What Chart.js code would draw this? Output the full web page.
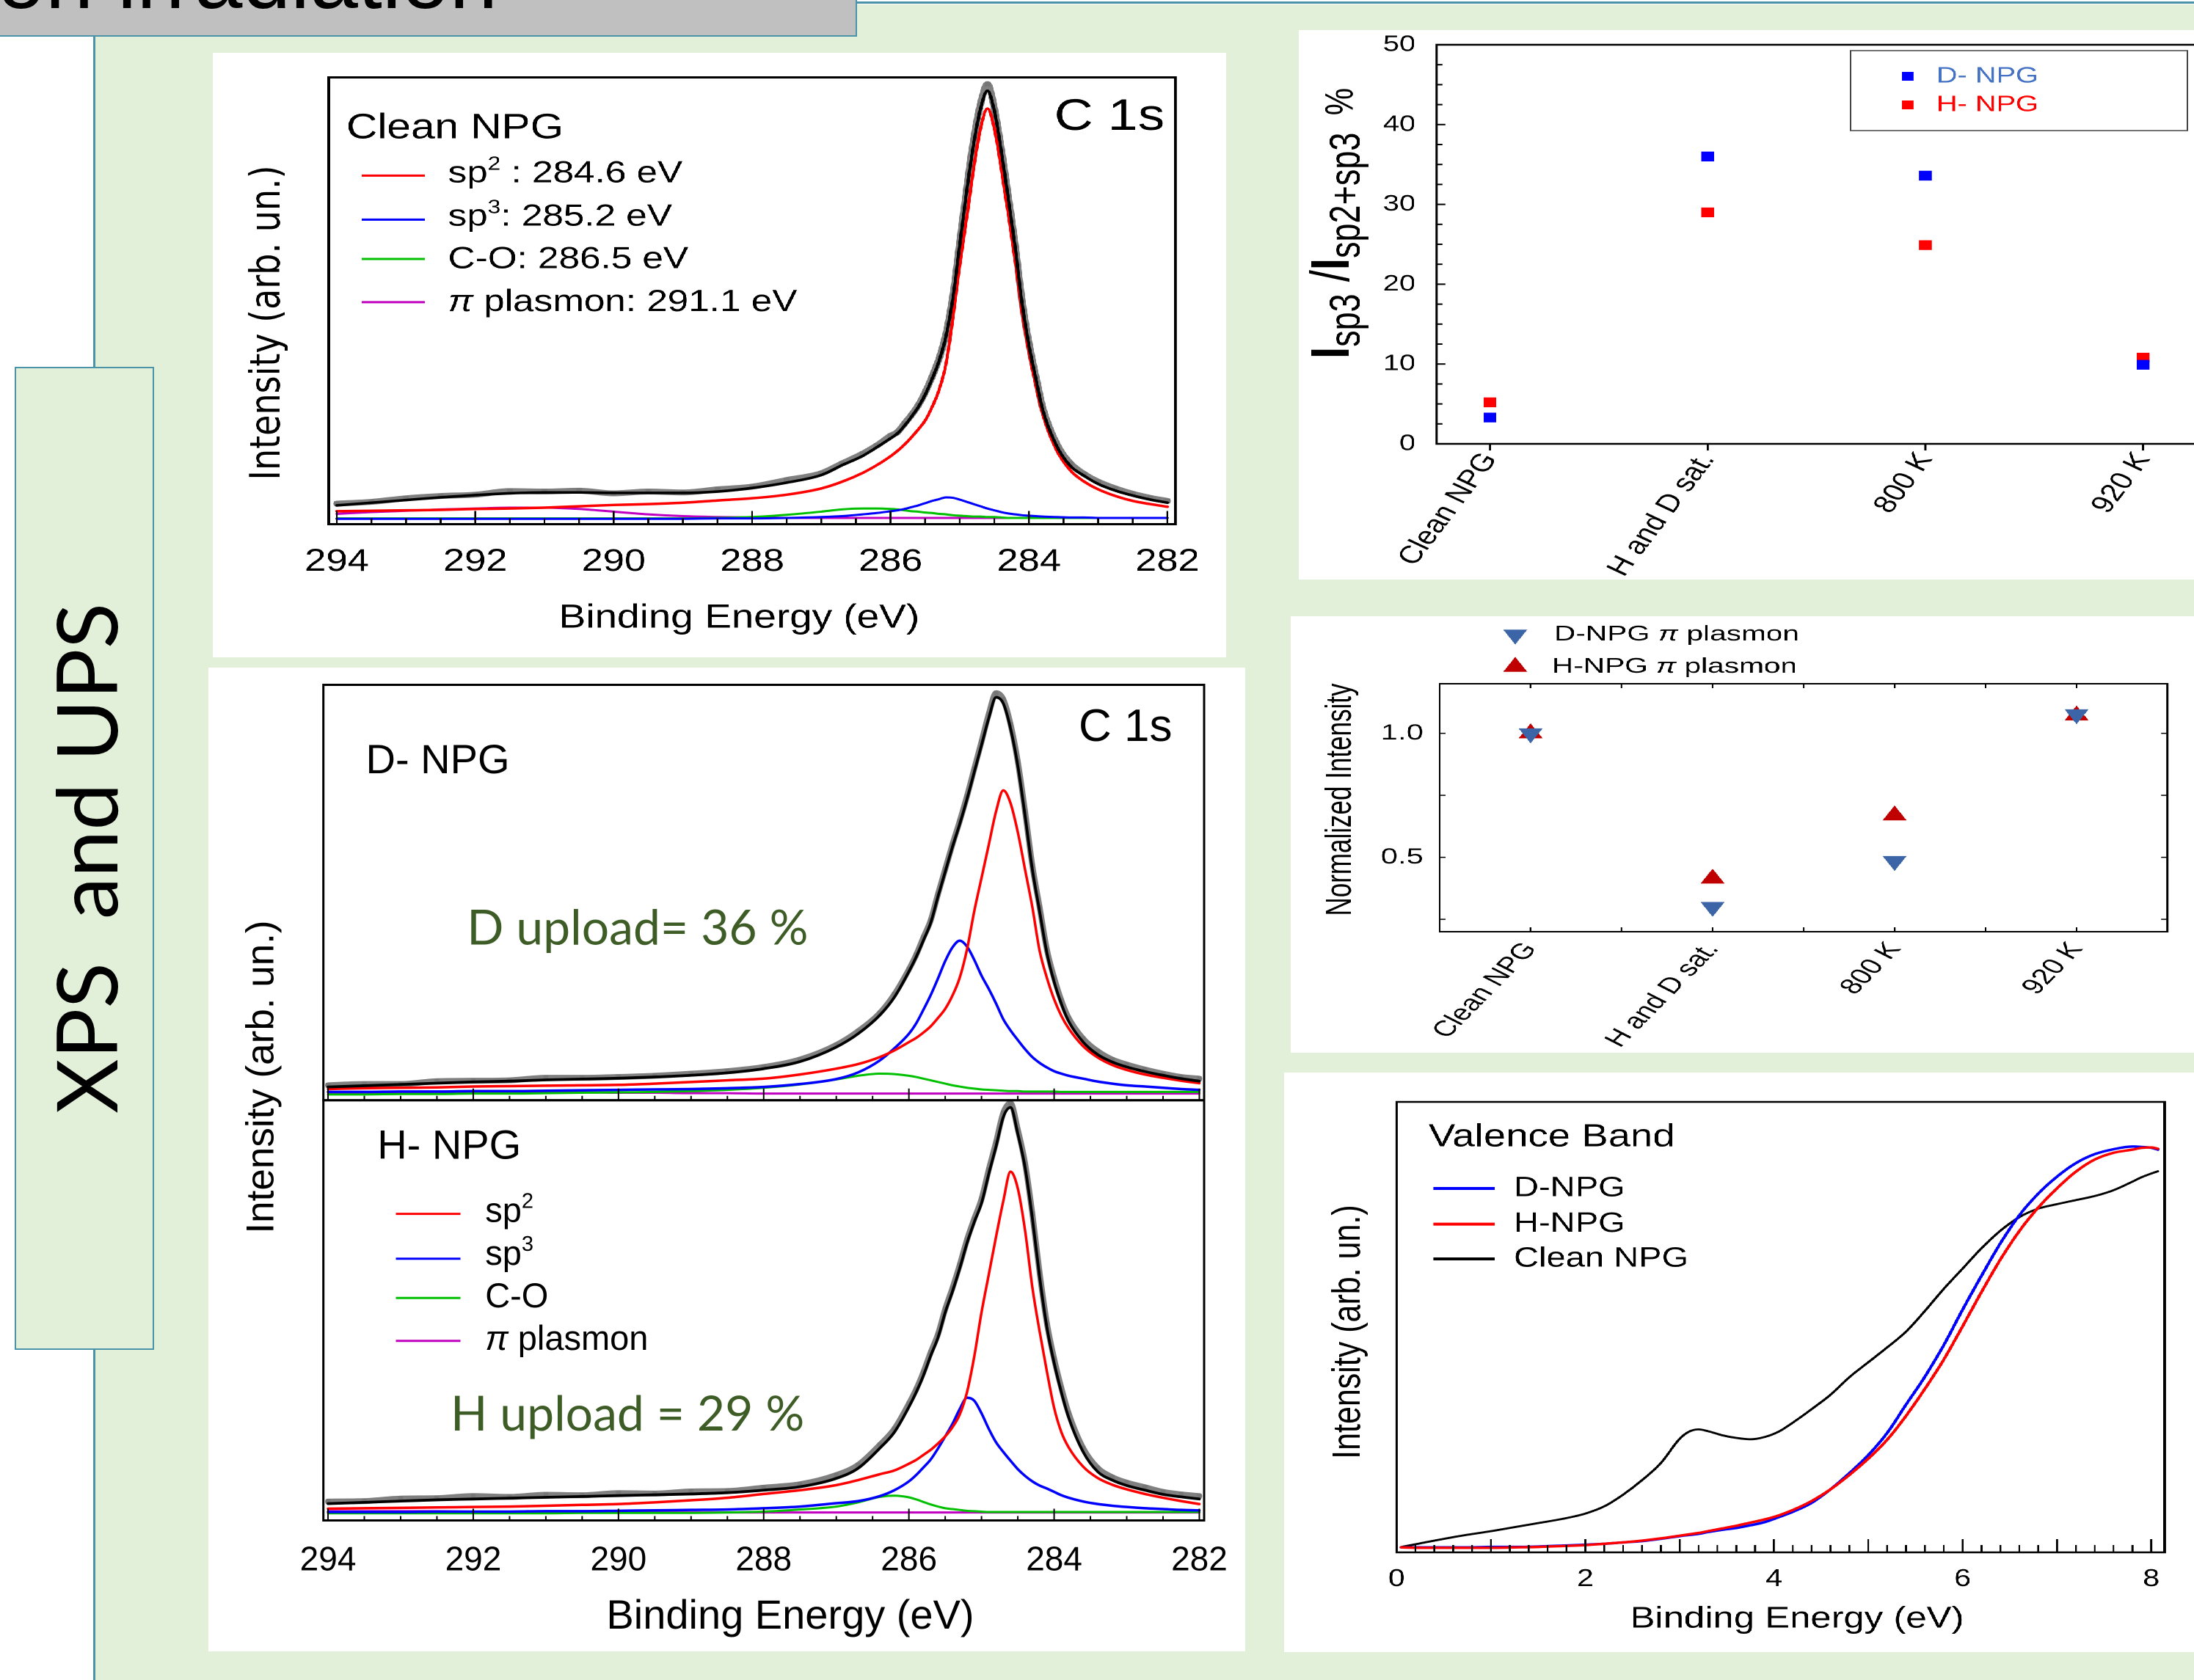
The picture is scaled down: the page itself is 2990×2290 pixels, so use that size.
<!DOCTYPE html>
<html>
<head>
<meta charset="utf-8">
<script src="https://cdn.jsdelivr.net/npm/chart.js@4.4.0/dist/chart.umd.min.js"></script>
<style>
  html, body { margin: 0; padding: 0; }
  body { width: 2990px; height: 2290px; position: relative; overflow: hidden; background: #ffffff; }
  .green { position: absolute; left: 129px; top: 6px; right: 0; bottom: 0; background: #e2efd9; }
  .vline { position: absolute; left: 127px; top: 48px; width: 3px; bottom: 0; background: #4a93a8; }
  .hline { position: absolute; left: 1166px; top: 2px; width: 1824px; height: 3px; background: #4a93a8; }
  .titlebox { position: absolute; left: 0; top: 0; width: 1166px; height: 48px; background: #c0c0c0;
              border-right: 2px solid #4a93a8; border-bottom: 2px solid #4a93a8; overflow: hidden; }
  .titlebox span { position: absolute; left: -4px; top: -89px; font: 118px/1 "Liberation Sans", Arial, sans-serif;
                   color: #000; white-space: nowrap; }
  .sidebox { position: absolute; left: 20px; top: 500px; width: 186px; height: 1336px; background: #e2efd9;
             border: 2px solid #4a93a8; }
  .sidebox span { position: absolute; left: 50%; top: 50%; transform: translate(-50%, -50%) rotate(-90deg);
                  font: 115px/1 Lato, "Open Sans", sans-serif; white-space: pre; color: #000; }
  .panel { position: absolute; background: #ffffff; transform-origin: 0 0; }
  .panel canvas { display: block; }
</style>
</head>
<body>
<div class="green"></div>
<div class="vline"></div>
<div class="hline"></div>
<div class="titlebox"><span>on irradiation</span></div>
<div class="sidebox"><span>XPS  and UPS</span></div>

<div class="panel" style="left:290px; top:72px; width:1132px; height:824px; transform:scaleX(1.22);"><canvas id="cClean"></canvas></div>
<div class="panel" style="left:284px; top:910px; width:1413px; height:1341px;"><canvas id="cDH"></canvas></div>
<div class="panel" style="left:1770px; top:41px; width:1039px; height:749px; transform:scaleX(1.28);"><canvas id="cRatio"></canvas></div>
<div class="panel" style="left:1759px; top:840px; width:879px; height:595px; transform:scaleX(1.4);"><canvas id="cPlasmon"></canvas></div>
<div class="panel" style="left:1750px; top:1462px; width:1000px; height:790px; transform:scaleX(1.24);"><canvas id="cValence"></canvas></div>

<script>
// ---- C 1s spectra (binding energy in eV, intensity in % of frame height) ----
const xpsEnergy = [294, 293.5, 293, 292.5, 292, 291.5, 291, 290.5, 290, 289.5, 289, 288.5, 288, 287.5, 287,
  286.7, 286.4, 286.2, 286.0, 285.9, 285.8, 285.7, 285.6, 285.5, 285.4, 285.3, 285.2, 285.1, 285.0, 284.9,
  284.8, 284.7, 284.6, 284.5, 284.4, 284.3, 284.2, 284.1, 284.0, 283.9, 283.8, 283.6, 283.4, 283.2, 283.0,
  282.75, 282.5, 282.25, 282];
const xpsTicks = [294, 292, 290, 288, 286, 284, 282];

const cleanData = [4.6, 5.0, 5.8, 6.3, 6.6, 7.4, 7.3, 7.5, 6.9, 7.3, 7.1, 7.8, 8.4, 9.9, 11.4, 13.6, 15.8, 17.6,
  19.8, 20.6, 22.5, 24.4, 26.6, 29.5, 33.0, 37.0, 42.5, 51.0, 63.0, 75.0, 86.0, 94.0, 98.5, 93.0, 84.0, 73.5,
  62.5, 50.0, 40.5, 33.0, 26.0, 18.0, 13.6, 11.2, 9.5, 8.0, 6.8, 5.9, 5.2];
const cleanFit = [4.2, 4.8, 5.4, 6.0, 6.5, 6.9, 7.1, 7.1, 7.0, 7.0, 7.0, 7.3, 8.1, 9.3, 11.0, 13.2, 15.3, 17.2,
  19.2, 20.3, 22.0, 24.0, 26.2, 29.0, 32.5, 36.5, 42.0, 50.5, 62.5, 74.5, 85.0, 93.0, 97.0, 92.5, 83.5, 73.0,
  62.0, 49.5, 40.0, 32.5, 25.5, 17.5, 13.0, 10.8, 9.0, 7.5, 6.4, 5.5, 4.8];
const cleanSp2 = [2.9, 3.0, 3.1, 3.2, 3.4, 3.5, 3.7, 4.0, 4.3, 4.5, 4.8, 5.3, 5.8, 6.6, 8.0, 9.5, 11.5, 13.2,
  15.2, 16.4, 17.8, 19.4, 21.2, 23.2, 26.2, 30.0, 35.8, 46.0, 58.0, 68.5, 79.5, 88.5, 93.0, 88.5, 79.5, 69.5,
  59.0, 47.5, 38.5, 31.0, 24.5, 16.5, 12.0, 9.5, 7.8, 6.3, 5.2, 4.5, 3.9];
const cleanSp3 = [1.2, 1.2, 1.2, 1.2, 1.2, 1.2, 1.2, 1.2, 1.2, 1.2, 1.2, 1.3, 1.3, 1.4, 1.6, 1.8, 2.2, 2.5,
  2.9, 3.1, 3.4, 3.8, 4.2, 4.7, 5.2, 5.6, 6.0, 5.9, 5.5, 5.0, 4.5, 4.0, 3.5, 3.1, 2.7, 2.4, 2.2, 2.0, 1.9,
  1.8, 1.7, 1.6, 1.5, 1.5, 1.4, 1.4, 1.4, 1.4, 1.4];
const cleanCO = [1.3, 1.3, 1.3, 1.3, 1.3, 1.3, 1.3, 1.3, 1.3, 1.3, 1.3, 1.4, 1.6, 2.1, 2.8, 3.3, 3.5, 3.5,
  3.4, 3.3, 3.1, 2.9, 2.8, 2.6, 2.5, 2.3, 2.2, 2.0, 1.9, 1.8, 1.7, 1.7, 1.6, 1.6, 1.5, 1.4, 1.4, 1.4, 1.4,
  1.4, 1.4, 1.4, 1.4, 1.4, 1.4, 1.4, 1.4, 1.4, 1.4];
const cleanPlasmon = [2.3, 2.7, 3.0, 3.3, 3.5, 3.7, 3.7, 3.4, 2.8, 2.2, 1.8, 1.6, 1.5, 1.4, 1.4, 1.4, 1.4, 1.4,
  1.4, 1.4, 1.4, 1.4, 1.4, 1.4, 1.4, 1.4, 1.4, 1.4, 1.4, 1.4, 1.4, 1.4, 1.4, 1.4, 1.4, 1.4, 1.4, 1.4, 1.4,
  1.4, 1.4, 1.4, 1.4, 1.4, 1.4, 1.4, 1.4, 1.4, 1.4];

const dData = [3.6, 3.9, 3.9, 4.6, 4.7, 4.8, 5.4, 5.4, 5.6, 5.9, 6.4, 7.0, 8.0, 9.8, 13.3, 16.6, 21.0, 25.5,
  31.5, 35.0, 39.2, 43.3, 49.6, 55.6, 61.6, 67.2, 73.2, 79.8, 86.3, 93.0, 98.0, 96.5, 90.5, 81.5, 69.5, 56.5,
  46.5, 36.3, 29.5, 24.0, 19.8, 14.8, 11.8, 9.8, 8.6, 7.4, 6.4, 5.6, 5.2];
const dFit = [3.2, 3.5, 3.8, 4.1, 4.4, 4.6, 4.9, 5.1, 5.3, 5.6, 6.0, 6.6, 7.6, 9.3, 12.8, 16.0, 20.5, 24.8,
  31.0, 34.5, 38.5, 42.7, 49.0, 55.0, 61.0, 66.5, 72.5, 79.0, 85.5, 92.0, 97.0, 95.5, 89.5, 80.5, 68.5, 55.6,
  45.5, 35.5, 28.5, 23.2, 19.0, 14.0, 11.0, 9.2, 8.0, 6.9, 6.0, 5.2, 4.6];
const dSp2 = [2.7, 2.9, 3.0, 3.1, 3.3, 3.4, 3.5, 3.6, 3.7, 4.0, 4.4, 4.8, 5.2, 6.2, 7.6, 8.7, 10.4, 12.0,
  14.0, 15.0, 16.3, 17.8, 19.8, 22.0, 25.2, 29.5, 36.3, 45.5, 53.5, 61.5, 69.5, 74.6, 71.5, 64.5, 55.5, 46.5,
  36.0, 29.5, 24.3, 20.3, 17.3, 13.0, 10.3, 8.5, 7.3, 6.2, 5.4, 4.7, 4.1];
const dSp3 = [2.0, 2.0, 2.1, 2.1, 2.2, 2.2, 2.3, 2.4, 2.5, 2.6, 2.7, 2.9, 3.2, 3.9, 5.1, 6.7, 9.6, 12.5,
  16.0, 18.5, 21.8, 25.3, 29.3, 33.5, 36.8, 38.4, 37.0, 33.8, 30.0, 26.8, 23.3, 19.5, 16.8, 14.5, 12.3, 10.4,
  9.0, 7.9, 7.0, 6.4, 5.9, 5.2, 4.5, 4.0, 3.6, 3.3, 3.0, 2.7, 2.5];
const dCO = [1.4, 1.4, 1.5, 1.5, 1.6, 1.6, 1.7, 1.8, 1.9, 2.0, 2.2, 2.5, 3.0, 3.8, 5.0, 5.9, 6.4, 6.3,
  5.9, 5.6, 5.2, 4.8, 4.4, 4.0, 3.6, 3.3, 3.0, 2.8, 2.6, 2.5, 2.4, 2.3, 2.2, 2.2, 2.1, 2.1, 2.1, 2.1, 2.1,
  2.0, 2.0, 2.0, 2.0, 2.0, 2.0, 2.0, 2.0, 2.0, 2.0];
const dPlasmon = [1.9, 1.9, 1.9, 1.9, 1.9, 1.9, 1.9, 1.9, 1.8, 1.8, 1.7, 1.7, 1.6, 1.6, 1.6, 1.6, 1.6, 1.6,
  1.6, 1.6, 1.6, 1.6, 1.6, 1.6, 1.6, 1.6, 1.6, 1.6, 1.6, 1.6, 1.6, 1.6, 1.6, 1.6, 1.6, 1.6, 1.6, 1.6, 1.6,
  1.6, 1.6, 1.6, 1.6, 1.6, 1.6, 1.6, 1.6, 1.6, 1.6];

const hData = [4.5, 4.6, 5.2, 5.3, 5.8, 5.6, 6.1, 6.0, 6.5, 6.4, 6.9, 7.0, 7.8, 8.6, 10.8, 13.2, 18.0, 21.8,
  27.8, 31.2, 35.3, 40.0, 44.3, 50.3, 55.3, 60.8, 66.8, 71.8, 76.5, 83.5, 90.0, 97.0, 99.3, 93.0, 85.0, 73.0,
  59.0, 47.0, 38.5, 31.5, 25.5, 17.2, 12.5, 10.3, 9.0, 7.9, 6.8, 6.2, 5.8];
const hFit = [4.0, 4.3, 4.6, 4.9, 5.1, 5.3, 5.5, 5.7, 5.9, 6.1, 6.3, 6.6, 7.2, 8.0, 10.0, 12.4, 17.2, 21.0,
  27.0, 30.5, 34.5, 39.2, 43.5, 49.5, 54.5, 60.0, 66.0, 71.0, 75.5, 82.5, 89.0, 96.0, 98.3, 92.0, 84.0, 72.0,
  58.0, 46.0, 37.5, 30.5, 24.5, 16.3, 11.6, 9.6, 8.3, 7.2, 6.2, 5.6, 5.1];
const hSp2 = [2.8, 2.9, 3.0, 3.1, 3.2, 3.3, 3.5, 3.7, 3.9, 4.3, 4.8, 5.4, 6.3, 7.2, 8.4, 9.6, 11.0, 11.9,
  13.5, 14.4, 15.6, 16.8, 18.3, 20.0, 22.2, 25.2, 30.5, 39.0, 49.5, 58.5, 67.5, 76.0, 83.0, 79.0, 69.0, 55.5,
  45.0, 35.5, 26.8, 21.0, 17.4, 12.8, 10.1, 8.5, 7.4, 6.3, 5.4, 4.6, 3.9];
const hSp3 = [2.0, 2.0, 2.0, 2.1, 2.1, 2.1, 2.2, 2.2, 2.3, 2.4, 2.5, 2.6, 2.9, 3.3, 4.1, 4.6, 5.8, 7.2,
  9.3, 10.8, 12.6, 14.5, 17.1, 20.0, 23.0, 26.5, 29.2, 28.5, 25.5, 21.8, 18.6, 16.3, 14.2, 12.2, 10.6, 9.3,
  8.3, 7.6, 6.8, 6.0, 5.4, 4.5, 3.9, 3.5, 3.2, 2.9, 2.7, 2.5, 2.4];
const hCO = [1.7, 1.7, 1.7, 1.7, 1.7, 1.7, 1.7, 1.8, 1.8, 1.8, 1.8, 1.9, 2.1, 2.6, 3.3, 4.3, 5.6, 5.9,
  5.5, 5.0, 4.4, 3.8, 3.3, 2.9, 2.7, 2.5, 2.3, 2.2, 2.1, 2.0, 2.0, 2.0, 2.0, 2.0, 2.0, 2.0, 2.0, 2.0, 2.0,
  2.0, 2.0, 2.0, 2.0, 2.0, 2.0, 2.0, 2.0, 2.0, 2.0];
const hPlasmon = [2.2, 2.2, 2.2, 2.2, 2.1, 2.1, 2.1, 2.1, 2.0, 1.9, 1.9, 1.9, 1.9, 1.9, 1.9, 1.9, 1.9, 1.9,
  1.9, 1.9, 1.9, 1.9, 1.9, 1.9, 1.9, 1.9, 1.9, 1.9, 1.9, 1.9, 1.9, 1.9, 1.9, 1.9, 1.9, 1.9, 1.9, 1.9, 1.9,
  1.9, 1.9, 1.9, 1.9, 1.9, 1.9, 1.9, 1.9, 1.9, 1.9];

// ---- sp3 fraction and plasmon intensity per sample state ----
const conditions = ['Clean NPG', 'H and D sat.', '800 K', '920 K'];
const sp3FractionD = [3.3, 36.0, 33.6, 9.9];
const sp3FractionH = [5.2, 29.0, 24.9, 10.8];
const sp3Ticks = [0, 10, 20, 30, 40, 50];
const plasmonD = [1.0, 0.30, 0.485, 1.077];
const plasmonH = [1.0, 0.414, 0.669, 1.072];
const plasmonTicks = [0.5, 1.0];

// ---- valence band (UPS) ----
const vbEnergy = [0.05, 0.25, 0.5, 0.75, 1.0, 1.25, 1.5, 1.75, 2.0, 2.2, 2.4, 2.6, 2.8, 3.0, 3.1, 3.2, 3.3,
  3.45, 3.6, 3.75, 3.9, 4.05, 4.2, 4.4, 4.6, 4.8, 5.0, 5.2, 5.4, 5.6, 5.8, 6.0, 6.2, 6.4, 6.6, 6.8, 7.0, 7.2,
  7.4, 7.6, 7.8, 7.9, 8.0, 8.07];
const vbD = [1.1, 1.1, 1.1, 1.1, 1.2, 1.2, 1.3, 1.5, 1.7, 1.9, 2.2, 2.5, 3.0, 3.6, 3.85, 4.1, 4.5, 5.0, 5.4,
  6.0, 6.7, 7.8, 9.0, 11.0, 14.0, 17.6, 21.6, 26.5, 32.8, 39.0, 46.0, 53.9, 61.4, 68.6, 74.8, 79.6, 83.4,
  86.4, 88.4, 89.5, 90.1, 90.0, 89.8, 89.4];
const vbH = [1.1, 1.0, 1.0, 1.0, 1.0, 1.1, 1.2, 1.4, 1.6, 1.9, 2.2, 2.6, 3.1, 3.7, 4.0, 4.3, 4.7, 5.3, 5.9,
  6.6, 7.3, 8.2, 9.4, 11.4, 14.0, 17.2, 20.8, 25.0, 30.3, 36.3, 42.8, 50.2, 57.8, 65.0, 71.3, 76.5, 80.8,
  84.5, 87.2, 88.7, 89.4, 89.8, 89.9, 89.6];
const vbClean = [1.2, 2.0, 3.0, 3.9, 4.7, 5.6, 6.5, 7.4, 8.6, 10.2, 12.8, 16.0, 19.8, 25.2, 26.8, 27.3, 26.9,
  26.0, 25.4, 25.1, 25.6, 26.8, 28.8, 31.8, 35.0, 38.9, 42.2, 45.5, 49.0, 53.6, 58.5, 63.0, 67.5, 71.4, 74.4,
  76.3, 77.3, 78.2, 79.1, 80.4, 82.3, 83.3, 84.1, 84.6];
const vbTicks = [0, 2, 4, 6, 8];

// ---------------------------------------------------------------------
const FONT = '"Liberation Sans", Arial, Helvetica, sans-serif';
const font = (size, style) => (style ? style + ' ' : '') + size + 'px ' + FONT;
const DEJAVU = size => size + 'px "DejaVu Sans", sans-serif';
const LATO = size => size + 'px Lato, "Open Sans", sans-serif';
const RED = '#ff0000', BLUE = '#0000ff', GREEN = '#00c000', MAGENTA = '#c000c0', GRAY = '#808080';
const UPLOAD_GREEN = '#3d5c26';

Chart.defaults.font.family = FONT;
Chart.defaults.color = '#000';

const xy = (xs, ys) => xs.map((x, i) => ({x: x, y: ys[i]}));
const steps = (a, b, s) => { const out = []; for (let v = a; v <= b + 1e-9; v += s) out.push(+v.toFixed(3)); return out; };

function curve(xs, ys, color, width, extra) {
  return Object.assign({
    data: xy(xs, ys), showLine: true, borderColor: color, borderWidth: width, pointRadius: 0,
    cubicInterpolationMode: 'monotone', borderJoinStyle: 'round', borderCapStyle: 'round', fill: false
  }, extra || {});
}
function band(ys) {
  return curve(xpsEnergy, ys, GRAY, 8, {pointStyle: 'rect', pointRadius: 4.5, pointBackgroundColor: '#767676',
    pointBorderWidth: 0});
}

// the axis boxes are forced to fixed sizes so the frames land where the reference has them
function noPadding(s) { s.paddingTop = 0; s.paddingBottom = 0; s.paddingLeft = 0; s.paddingRight = 0; }

function xAxis(o) {
  return {
    type: 'linear', position: 'bottom', reverse: !!o.reverse, min: o.min, max: o.max,
    afterBuildTicks: s => { s.ticks = o.ticks.map(v => ({value: v})); },
    afterFit: s => { s.height = o.height; noPadding(s); },
    ticks: {autoSkip: false, minRotation: o.rot || 0, maxRotation: o.rot || 0, padding: o.pad,
            font: {size: o.size}, color: '#000', callback: o.fmt || (v => String(v))},
    grid: {display: false, drawTicks: false}, border: {display: false}
  };
}
function yAxis(o) {
  const ax = {
    type: 'linear', position: 'left', min: o.min, max: o.max,
    afterFit: s => { s.width = o.width; noPadding(s); },
    ticks: o.ticks ? {autoSkip: false, padding: o.pad, font: {size: o.size}, color: '#000',
                      callback: o.fmt || (v => String(v))} : {display: false},
    grid: {display: false, drawTicks: false}, border: {display: false}
  };
  if (o.ticks) ax.afterBuildTicks = s => { s.ticks = o.ticks.map(v => ({value: v})); };
  if (o.stack) { ax.stack = o.stack; ax.stackWeight = o.weight; }
  return ax;
}
function baseOptions(top, right, scales) {
  return {
    animation: false, responsive: true, maintainAspectRatio: false, events: [], devicePixelRatio: 2,
    layout: {padding: {top: top, right: right, left: 0, bottom: 0}},
    plugins: {legend: {display: false}, tooltip: {enabled: false}},
    scales: scales
  };
}

function drawRuns(ctx, item) {
  ctx.save();
  ctx.translate(item.x, item.y);
  if (item.rot) ctx.rotate(item.rot * Math.PI / 180);
  ctx.fillStyle = item.color || '#000';
  ctx.textAlign = 'left';
  ctx.textBaseline = item.baseline || 'alphabetic';
  let total = 0;
  const widths = item.runs.map(r => { ctx.font = r.f; const w = ctx.measureText(r.t).width; total += w; return w; });
  let cx = item.align === 'center' ? -total / 2 : 0;
  item.runs.forEach((r, i) => { ctx.font = r.f; ctx.fillText(r.t, cx, r.dy || 0); cx += widths[i]; });
  ctx.restore();
}
function drawMarker(ctx, m) {
  ctx.save();
  ctx.fillStyle = m.color;
  ctx.translate(m.x, m.y);
  ctx.rotate((m.rot || 0) * Math.PI / 180);
  ctx.beginPath();
  if (m.style === 'rect') {
    const s = m.r * Math.SQRT1_2;
    ctx.rect(-s, -s, 2 * s, 2 * s);
  } else {
    for (let i = 0; i < 3; i++) {
      const a = i * 2 * Math.PI / 3;
      const px = Math.sin(a) * m.r, py = -Math.cos(a) * m.r;
      if (i) ctx.lineTo(px, py); else ctx.moveTo(px, py);
    }
    ctx.closePath();
  }
  ctx.fill();
  ctx.restore();
}

// frames, inward tick marks, legends and labels drawn on top of each panel
function decor(id, cfg) {
  return {
    id: id,
    afterDraw(chart) {
      const ctx = chart.ctx, area = chart.chartArea;
      ctx.save();
      (cfg.frames || []).forEach(f => {
        const ys = chart.scales[f.y];
        ctx.lineWidth = f.width;
        ctx.strokeStyle = '#000';
        ctx.strokeRect(area.left, ys.top, area.right - area.left, ys.bottom - ys.top);
      });
      (cfg.ticks || []).forEach(t => {
        const sc = chart.scales[t.scale];
        ctx.lineWidth = t.width || 2;
        ctx.strokeStyle = '#000';
        t.values.forEach(v => {
          const len = t.isMajor && t.isMajor(v) ? t.majorLen : t.len;
          const p = sc.getPixelForValue(v);
          ctx.beginPath();
          if (t.side === 'bottom' || t.side === 'top') {
            const ys = chart.scales[t.y];
            const y0 = t.side === 'bottom' ? ys.bottom : ys.top;
            const dir = t.side === 'bottom' ? -1 : 1;
            ctx.moveTo(p, y0); ctx.lineTo(p, y0 + dir * len);
          } else {
            const x0 = t.side === 'left' ? area.left : area.right;
            const dir = t.side === 'left' ? 1 : -1;
            ctx.moveTo(x0, p); ctx.lineTo(x0 + dir * len, p);
          }
          ctx.stroke();
        });
      });
      (cfg.boxes || []).forEach(b => {
        ctx.lineWidth = b.width; ctx.strokeStyle = b.color;
        ctx.strokeRect(b.x, b.y, b.w, b.h);
      });
      (cfg.lines || []).forEach(l => {
        ctx.lineWidth = l.width; ctx.strokeStyle = l.color;
        ctx.beginPath(); ctx.moveTo(l.x1, l.y); ctx.lineTo(l.x2, l.y); ctx.stroke();
      });
      (cfg.markers || []).forEach(m => drawMarker(ctx, m));
      (cfg.texts || []).forEach(t => drawRuns(ctx, t));
      ctx.restore();
    }
  };
}

const xpsMinor = steps(282, 294, 0.5);
const isEven = v => Math.abs(v / 2 - Math.round(v / 2)) < 1e-6;

// ---------------- Clean NPG C 1s ----------------
new Chart(document.getElementById('cClean'), {
  type: 'scatter',
  data: {datasets: [
    curve(xpsEnergy, cleanFit, '#000', 3.6),
    curve(xpsEnergy, cleanSp2, RED, 3.5),
    curve(xpsEnergy, cleanSp3, BLUE, 3),
    curve(xpsEnergy, cleanCO, GREEN, 3),
    curve(xpsEnergy, cleanPlasmon, MAGENTA, 3),
    band(cleanData)
  ]},
  options: baseOptions(33.5, 56.6, {
    x: xAxis({reverse: true, min: 281.883, max: 294.117, ticks: xpsTicks, height: 181.5, pad: 25.7, size: 43}),
    y: yAxis({min: 0, max: 100, width: 129.5})
  }),
  plugins: [decor('decorClean', {
    frames: [{y: 'y', width: 3}],
    ticks: [{scale: 'x', y: 'y', side: 'bottom', values: xpsMinor, len: 8, majorLen: 18, isMajor: isEven, width: 2}],
    lines: [
      {x1: 166.4, x2: 237, y: 167.4, color: RED, width: 3},
      {x1: 166.4, x2: 237, y: 227.4, color: BLUE, width: 3},
      {x1: 166.4, x2: 237, y: 281, color: GREEN, width: 3},
      {x1: 166.4, x2: 237, y: 339.9, color: MAGENTA, width: 3}
    ],
    texts: [
      {x: 149.2, y: 116.5, runs: [{t: 'Clean NPG', f: font(48)}]},
      {x: 940, y: 105, runs: [{t: 'C 1s', f: font(60)}]},
      {x: 262.8, y: 176.5, runs: [{t: 'sp', f: font(42)}, {t: '2', f: font(26), dy: -17}, {t: ' : 284.6 eV', f: font(42)}]},
      {x: 262.8, y: 235.5, runs: [{t: 'sp', f: font(42)}, {t: '3', f: font(26), dy: -17}, {t: ': 285.2 eV', f: font(42)}]},
      {x: 262.8, y: 293.3, runs: [{t: 'C-O: 286.5 eV', f: font(42)}]},
      {x: 262.8, y: 352.2, runs: [{t: 'π', f: font(42, 'italic')}, {t: ' plasmon: 291.1 eV', f: font(42)}]},
      {x: 588, y: 783.4, align: 'center', runs: [{t: 'Binding Energy (eV)', f: font(45)}]},
      {x: 62.3, y: 368, rot: -90, align: 'center', baseline: 'middle', runs: [{t: 'Intensity (arb. un.)', f: DEJAVU(46)}]}
    ]
  })]
});

// ---------------- D-NPG / H-NPG C 1s (stacked frames) ----------------
new Chart(document.getElementById('cDH'), {
  type: 'scatter',
  data: {datasets: [
    curve(xpsEnergy, dFit, '#000', 3.8, {yAxisID: 'yD'}),
    curve(xpsEnergy, dSp2, RED, 3.5, {yAxisID: 'yD'}),
    curve(xpsEnergy, dSp3, BLUE, 3.5, {yAxisID: 'yD'}),
    curve(xpsEnergy, dCO, GREEN, 3, {yAxisID: 'yD'}),
    curve(xpsEnergy, dPlasmon, MAGENTA, 3, {yAxisID: 'yD'}),
    Object.assign(band(dData), {yAxisID: 'yD'}),
    curve(xpsEnergy, hFit, '#000', 3.8, {yAxisID: 'yH'}),
    curve(xpsEnergy, hSp2, RED, 3.5, {yAxisID: 'yH'}),
    curve(xpsEnergy, hSp3, BLUE, 3.5, {yAxisID: 'yH'}),
    curve(xpsEnergy, hCO, GREEN, 3, {yAxisID: 'yH'}),
    curve(xpsEnergy, hPlasmon, MAGENTA, 3, {yAxisID: 'yH'}),
    Object.assign(band(hData), {yAxisID: 'yH'})
  ]},
  options: baseOptions(23.5, 56, {
    x: xAxis({reverse: true, min: 281.934, max: 294.064, ticks: xpsTicks, height: 178.5, pad: 27.9, size: 46}),
    yH: yAxis({min: 0, max: 100, width: 156.7, stack: 'xps', weight: 571.5}),
    yD: yAxis({min: 0, max: 100, width: 156.7, stack: 'xps', weight: 565})
  }),
  plugins: [decor('decorDH', {
    frames: [{y: 'yD', width: 3}, {y: 'yH', width: 3}],
    ticks: [
      {scale: 'x', y: 'yD', side: 'bottom', values: xpsMinor, len: 6, majorLen: 16, isMajor: isEven, width: 2},
      {scale: 'x', y: 'yH', side: 'bottom', values: xpsMinor, len: 6, majorLen: 16, isMajor: isEven, width: 2}
    ],
    lines: [
      {x1: 255.5, x2: 343.5, y: 744.6, color: RED, width: 3},
      {x1: 255.5, x2: 343.5, y: 805.7, color: BLUE, width: 3},
      {x1: 255.5, x2: 343.5, y: 859.3, color: GREEN, width: 3},
      {x1: 255.5, x2: 343.5, y: 917.8, color: MAGENTA, width: 3}
    ],
    texts: [
      {x: 1186, y: 100, runs: [{t: 'C 1s', f: font(62)}]},
      {x: 214.5, y: 144, runs: [{t: 'D- NPG', f: font(56)}]},
      {x: 352.3, y: 377.3, color: UPLOAD_GREEN, runs: [{t: 'D upload= 36 %', f: LATO(66)}]},
      {x: 230.2, y: 669.6, runs: [{t: 'H- NPG', f: font(56)}]},
      {x: 377.2, y: 755.7, runs: [{t: 'sp', f: font(47)}, {t: '2', f: font(29), dy: -19}]},
      {x: 377.2, y: 813.8, runs: [{t: 'sp', f: font(47)}, {t: '3', f: font(29), dy: -19}]},
      {x: 377.2, y: 871.8, runs: [{t: 'C-O', f: font(47)}]},
      {x: 377.2, y: 929.8, runs: [{t: 'π', f: font(47, 'italic')}, {t: ' plasmon', f: font(47)}]},
      {x: 330, y: 1040, color: UPLOAD_GREEN, runs: [{t: 'H upload = 29 %', f: LATO(66)}]},
      {x: 793, y: 1310, align: 'center', runs: [{t: 'Binding Energy (eV)', f: font(56)}]},
      {x: 74, y: 558, rot: -90, align: 'center', baseline: 'middle', runs: [{t: 'Intensity (arb. un.)', f: font(53)}]}
    ]
  })]
});

// ---------------- sp3 fraction ----------------
new Chart(document.getElementById('cRatio'), {
  type: 'scatter',
  data: {datasets: [
    {data: xy(conditions.map((c, i) => i), sp3FractionD), pointStyle: 'rect', pointRadius: 9.4,
     pointBackgroundColor: BLUE, pointBorderWidth: 0},
    {data: xy(conditions.map((c, i) => i), sp3FractionH), pointStyle: 'rect', pointRadius: 9.4,
     pointBackgroundColor: RED, pointBorderWidth: 0}
  ]},
  options: baseOptions(20, 25, {
    x: xAxis({min: -0.2446, max: 3.496, ticks: [0, 1, 2, 3], height: 185, pad: 5, size: 34, rot: 59,
              fmt: v => conditions[v]}),
    y: yAxis({min: 0, max: 50, width: 146.9, ticks: sp3Ticks, pad: 22.7, size: 31})
  }),
  plugins: [decor('decorRatio', {
    frames: [{y: 'y', width: 2.5}],
    ticks: [
      {scale: 'y', side: 'left', values: steps(0, 50, 2.5), len: 6, majorLen: 9,
       isMajor: v => v % 10 === 0, width: 2},
      {scale: 'x', y: 'y', side: 'bottom', values: [0, 1, 2, 3], len: -9, width: 2}
    ],
    boxes: [{x: 587.5, y: 28, w: 358.5, h: 109, width: 1.5, color: '#444'}],
    markers: [
      {style: 'rect', x: 648.4, y: 63, r: 8.5, color: BLUE},
      {style: 'rect', x: 648.4, y: 102, r: 8.5, color: RED}
    ],
    texts: [
      {x: 678.9, y: 63, baseline: 'middle', color: '#4472c4', runs: [{t: 'D- NPG', f: font(31)}]},
      {x: 678.9, y: 102, baseline: 'middle', color: RED, runs: [{t: 'H- NPG', f: font(31)}]},
      {x: 53.4, y: 448, rot: -90, runs: [
        {t: 'I', f: font(58, 'bold')}, {t: 'sp3', f: font(45), dy: 11}, {t: ' /', f: font(58)},
        {t: 'I', f: font(58, 'bold')}, {t: 'sp2+sp3', f: font(45), dy: 11}, {t: '  %', f: font(42), dy: 4}
      ]}
    ]
  })]
});

// ---------------- pi plasmon intensity ----------------
new Chart(document.getElementById('cPlasmon'), {
  type: 'scatter',
  data: {datasets: [
    {data: xy(conditions.map((c, i) => i), plasmonD), pointStyle: 'triangle', pointRotation: 180,
     pointRadius: 13.5, pointBackgroundColor: '#3b65a7', pointBorderWidth: 0},
    {data: xy(conditions.map((c, i) => i), plasmonH), pointStyle: 'triangle', pointRadius: 13.5,
     pointBackgroundColor: '#c00000', pointBorderWidth: 0}
  ]},
  options: baseOptions(92, 25.4, {
    x: xAxis({min: -0.5, max: 3.5, ticks: [0, 1, 2, 3], height: 165, pad: 8, size: 30, rot: 54.5,
              fmt: v => conditions[v]}),
    y: yAxis({min: 0.2, max: 1.2, width: 145, ticks: plasmonTicks, pad: 15.7, size: 30, fmt: v => v.toFixed(1)})
  }),
  plugins: [decor('decorPlasmon', {
    frames: [{y: 'y', width: 2}],
    ticks: [
      {scale: 'y', side: 'left', values: [0.25, 0.5, 0.75, 1.0], len: 6, width: 1.5},
      {scale: 'y', side: 'right', values: [0.25, 0.5, 0.75, 1.0], len: 6, width: 1.5},
      {scale: 'x', y: 'y', side: 'bottom', values: steps(0, 3, 0.5), len: 6, width: 1.5},
      {scale: 'x', y: 'y', side: 'top', values: steps(0, 3, 0.5), len: 6, width: 1.5}
    ],
    markers: [
      {style: 'triangle', x: 218.6, y: 25, r: 13.5, rot: 180, color: '#3b65a7'},
      {style: 'triangle', x: 218.6, y: 69, r: 13.5, color: '#c00000'}
    ],
    texts: [
      {x: 256.4, y: 25, baseline: 'middle', runs: [{t: 'D-NPG ', f: font(29)}, {t: 'π', f: font(29, 'italic')}, {t: ' plasmon', f: font(29)}]},
      {x: 254.3, y: 69, baseline: 'middle', runs: [{t: 'H-NPG ', f: font(29)}, {t: 'π', f: font(29, 'italic')}, {t: ' plasmon', f: font(29)}]},
      {x: 48.6, y: 250, rot: -90, align: 'center', baseline: 'middle', runs: [{t: 'Normalized Intensity', f: font(35)}]}
    ]
  })]
});

// ---------------- valence band ----------------
new Chart(document.getElementById('cValence'), {
  type: 'scatter',
  data: {datasets: [
    curve(vbEnergy, vbH, RED, 3.4),
    curve(vbEnergy, vbD, BLUE, 3.4),
    curve(vbEnergy, vbClean, '#000', 2.8)
  ]},
  options: baseOptions(40, 32.3, {
    x: xAxis({min: 0, max: 8.141, ticks: vbTicks, height: 136, pad: 17.1, size: 33}),
    y: yAxis({min: 0, max: 100, width: 123.7})
  }),
  plugins: [decor('decorValence', {
    frames: [{y: 'y', width: 2.5}],
    ticks: [{scale: 'x', y: 'y', side: 'bottom', values: steps(0, 8, 0.2), len: 10, majorLen: 18,
             isMajor: v => Math.abs(v - Math.round(v)) < 1e-6, width: 2}],
    lines: [
      {x1: 164.2, x2: 231.5, y: 158, color: BLUE, width: 4},
      {x1: 164.2, x2: 231.5, y: 206.6, color: RED, width: 4},
      {x1: 164.2, x2: 231.5, y: 254, color: '#000', width: 4}
    ],
    texts: [
      {x: 158.9, y: 100.5, runs: [{t: 'Valence Band', f: font(44)}]},
      {x: 252.4, y: 158, baseline: 'middle', runs: [{t: 'D-NPG', f: font(38)}]},
      {x: 252.4, y: 206.6, baseline: 'middle', runs: [{t: 'H-NPG', f: font(38)}]},
      {x: 252.4, y: 254, baseline: 'middle', runs: [{t: 'Clean NPG', f: font(38)}]},
      {x: 563.7, y: 756.7, align: 'center', runs: [{t: 'Binding Energy (eV)', f: font(41)}]},
      {x: 71, y: 353.6, rot: -90, align: 'center', baseline: 'middle', runs: [{t: 'Intensity (arb. un.)', f: font(43)}]}
    ]
  })]
});
</script>
</body>
</html>
